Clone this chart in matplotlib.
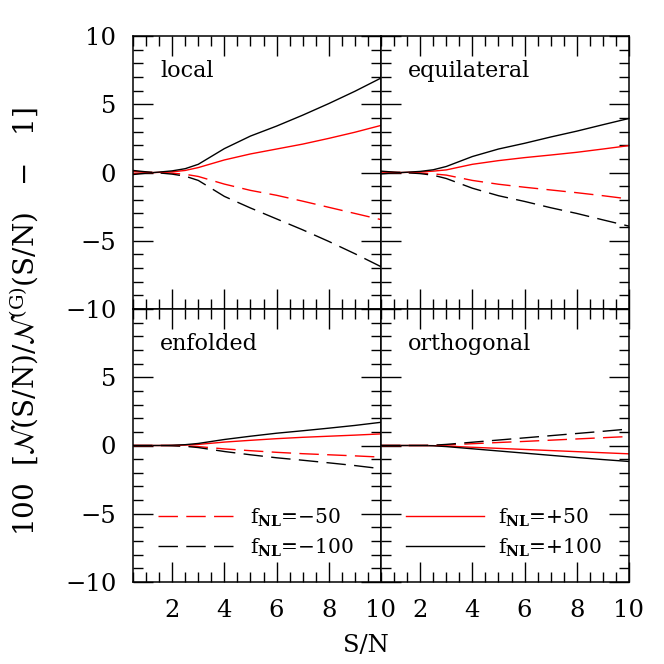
import matplotlib
matplotlib.use("Agg")
import matplotlib.pyplot as plt
from matplotlib.lines import Line2D
from matplotlib.ticker import MultipleLocator

plt.rcParams['font.family'] = ['DejaVu Serif']
plt.rcParams['mathtext.fontset'] = 'dejavuserif'

# ---- data ----
sn = [0.5, 1.0, 1.5, 2.0, 2.5, 3.0, 4.0, 5.0, 6.0, 7.0, 8.0, 9.0, 10.0]

local_p100 = [-0.15, -0.05, 0.03, 0.12, 0.28, 0.60, 1.75, 2.67, 3.40, 4.20, 5.05, 5.95, 6.92]
local_p50 = [-0.08, -0.03, 0.01, 0.05, 0.15, 0.36, 0.92, 1.36, 1.72, 2.08, 2.50, 2.95, 3.45]
local_m50 = [0.08, 0.03, -0.01, -0.05, -0.13, -0.29, -0.85, -1.31, -1.67, -2.10, -2.55, -3.00, -3.45]
local_m100 = [0.15, 0.05, -0.03, -0.12, -0.27, -0.58, -1.75, -2.60, -3.40, -4.20, -5.05, -5.95, -6.90]

equi_p100 = [-0.10, -0.03, 0.02, 0.08, 0.20, 0.44, 1.17, 1.72, 2.14, 2.60, 3.03, 3.50, 3.96]
equi_p50 = [-0.05, -0.02, 0.01, 0.04, 0.10, 0.19, 0.60, 0.87, 1.09, 1.28, 1.48, 1.72, 1.97]
equi_m50 = [0.05, 0.02, -0.01, -0.04, -0.10, -0.19, -0.58, -0.86, -1.08, -1.28, -1.48, -1.70, -1.94]
equi_m100 = [0.10, 0.03, -0.02, -0.08, -0.20, -0.44, -1.15, -1.70, -2.12, -2.58, -3.00, -3.47, -3.93]

enf_p100 = [0.0, 0.0, 0.0, 0.02, 0.06, 0.15, 0.44, 0.68, 0.90, 1.08, 1.27, 1.47, 1.70]
enf_p50 = [0.0, 0.0, 0.0, 0.01, 0.03, 0.08, 0.25, 0.38, 0.50, 0.60, 0.68, 0.76, 0.85]
enf_m50 = [0.0, 0.0, 0.0, -0.01, -0.03, -0.08, -0.25, -0.38, -0.50, -0.60, -0.68, -0.76, -0.85]
enf_m100 = [0.0, 0.0, 0.0, -0.02, -0.06, -0.15, -0.44, -0.68, -0.90, -1.08, -1.27, -1.47, -1.70]

orth_p100 = [0.0, 0.0, 0.0, 0.0, -0.02, -0.08, -0.24, -0.40, -0.56, -0.72, -0.88, -1.03, -1.17]
orth_p50 = [0.0, 0.0, 0.0, 0.0, -0.01, -0.04, -0.13, -0.21, -0.29, -0.37, -0.45, -0.53, -0.61]
orth_m50 = [0.0, 0.0, 0.0, 0.0, 0.01, 0.04, 0.13, 0.22, 0.30, 0.39, 0.48, 0.57, 0.66]
orth_m100 = [0.0, 0.0, 0.0, 0.0, 0.02, 0.08, 0.24, 0.40, 0.56, 0.72, 0.88, 1.04, 1.21]

panel_names = ["local", "equilateral", "enfolded", "orthogonal"]
panel_series = [
    (local_p50, local_p100, local_m50, local_m100),
    (equi_p50, equi_p100, equi_m50, equi_m100),
    (enf_p50, enf_p100, enf_m50, enf_m100),
    (orth_p50, orth_p100, orth_m50, orth_m100),
]
xticks = [2, 4, 6, 8, 10]
xticklabels = ["2", "4", "6", "8", "10"]
yticks = [-10, -5, 0, 5, 10]
yticklabels_top = ["\u221210", "\u22125", "0", "5", "10"]
yticklabels_bot = ["\u221210", "\u22125", "0", "5", ""]
legend_neg = ["f$_{\\mathbf{NL}}$=\u221250", "f$_{\\mathbf{NL}}$=\u2212100"]
legend_pos = ["f$_{\\mathbf{NL}}$=+50", "f$_{\\mathbf{NL}}$=+100"]

RED = "#ff0000"
DASH = (0, (14, 6))
LW = 1.0
TICKFS = 17.5
NAMEFS = 16
LEGFS = 14.5

fig = plt.figure(figsize=(6.64, 6.64), dpi=100)
W = H = 664.0
gs = fig.add_gridspec(2, 2, left=133 / W, right=629 / W, bottom=1 - 582 / H,
                      top=1 - 36 / H, hspace=0, wspace=0)

for i, (name, ser) in enumerate(zip(panel_names, panel_series)):
    r, c = divmod(i, 2)
    ax = fig.add_subplot(gs[r, c])
    p50, p100, m50, m100 = ser
    ax.plot(sn, p50, color=RED, lw=LW, ls='-')
    ax.plot(sn, p100, color='black', lw=LW, ls='-')
    ax.plot(sn, m50, color=RED, lw=LW, ls=DASH)
    ax.plot(sn, m100, color='black', lw=LW, ls=DASH)
    ax.set_xlim(0.5, 10)
    ax.set_ylim(-10, 10)
    ax.set_xticks(xticks)
    ax.set_yticks(yticks)
    ax.xaxis.set_minor_locator(MultipleLocator(0.5))
    ax.yaxis.set_minor_locator(MultipleLocator(1))
    ax.tick_params(which='both', direction='in', top=True, right=True,
                   width=1.0, labelsize=TICKFS, pad=12)
    ax.tick_params(which='major', length=14.4)
    ax.tick_params(which='minor', length=7.2)
    for s in ax.spines.values():
        s.set_linewidth(1.1)
    if r == 1:
        ax.set_xticklabels(xticklabels)
    else:
        ax.set_xticklabels([])
    if c == 0:
        ax.set_yticklabels(yticklabels_top if r == 0 else yticklabels_bot)
    else:
        ax.set_yticklabels([])
    ax.text(0.11, 0.848, name, transform=ax.transAxes, fontsize=NAMEFS,
            va='baseline', ha='left')
    if r == 1:
        if c == 0:
            handles = [Line2D([], [], color=RED, lw=LW, ls=DASH),
                       Line2D([], [], color='black', lw=LW, ls=DASH)]
            labels = legend_neg
        else:
            handles = [Line2D([], [], color=RED, lw=LW, ls='-'),
                       Line2D([], [], color='black', lw=LW, ls='-')]
            labels = legend_pos
        ax.legend(handles, labels, loc='lower left', bbox_to_anchor=(0.1, 0.085),
                  frameon=False, fontsize=LEGFS, handlelength=3.9,
                  handletextpad=0.7, labelspacing=0.38, borderpad=0,
                  borderaxespad=0)

fig.text(366 / W, 1 - 646 / H, "S/N", fontsize=TICKFS, ha='center', va='center')
fig.text(24 / W, 1 - 322 / H,
         "100  [$\\mathcal{N}$(S/N)/$\\mathcal{N}^{\\mathrm{(G)}}$(S/N)   \u2212   1]",
         fontsize=20, rotation=90, ha='center', va='center')

fig.savefig("out.png", dpi=100)
